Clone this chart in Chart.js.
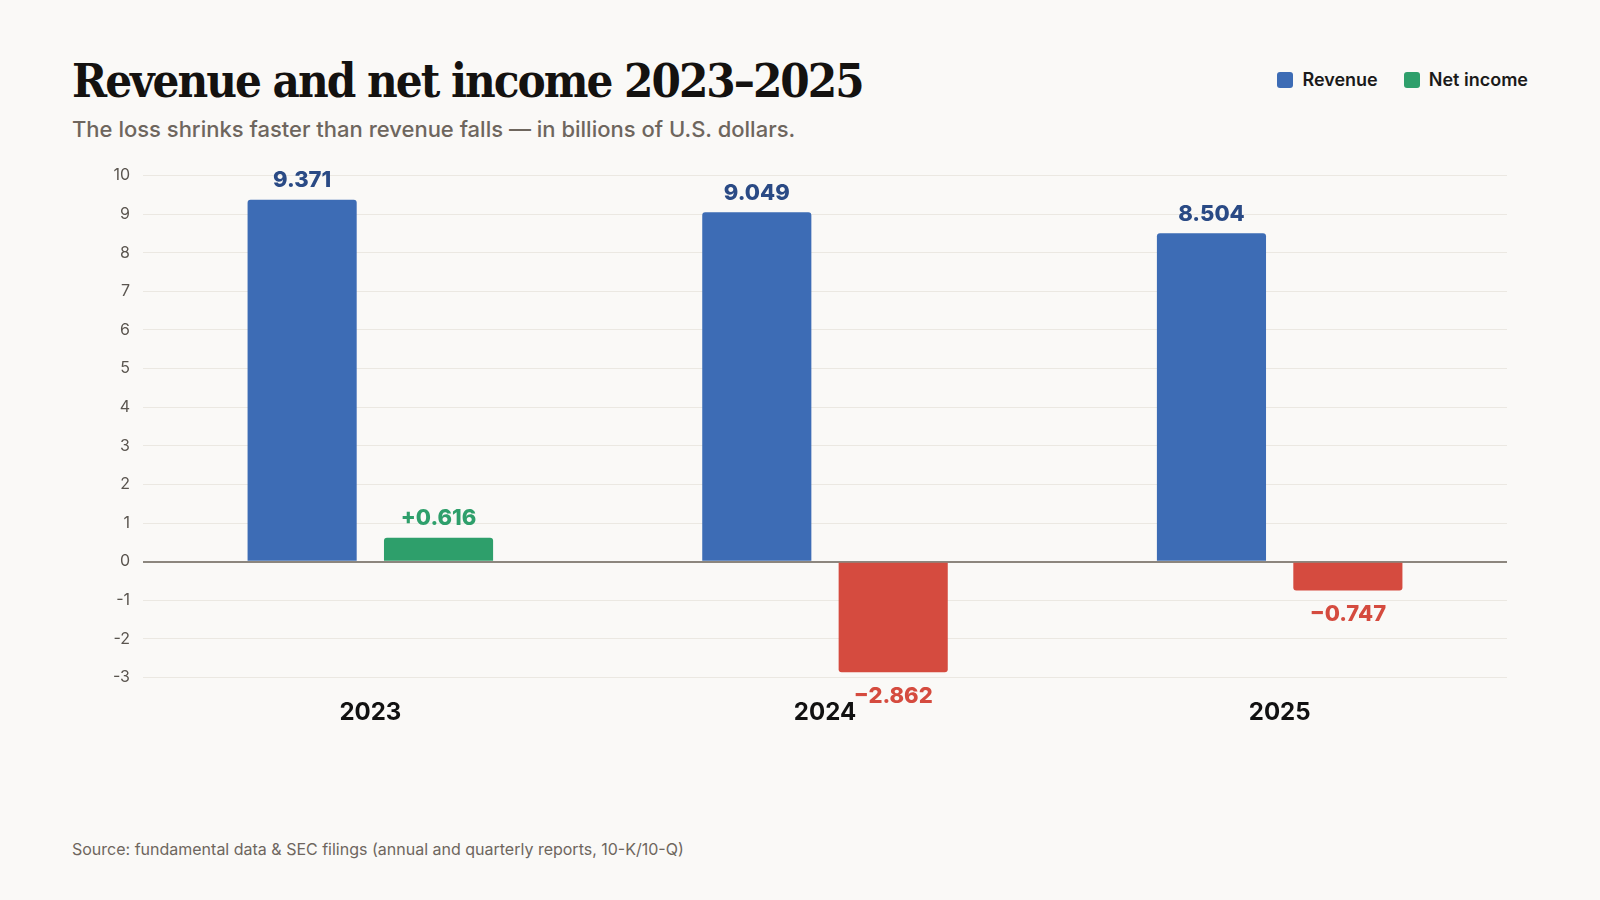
<!DOCTYPE html>
<html>
<head>
<meta charset="utf-8">
<script src="https://cdn.jsdelivr.net/npm/chart.js@4.4.1/dist/chart.umd.min.js"></script>
<style>
  html, body { margin: 0; padding: 0; background: #faf9f7; }
  body { width: 1600px; height: 900px; position: relative; overflow: hidden; font-family: Inter, "Noto Sans", sans-serif; }
  #title { position: absolute; left: 72px; top: 57px; font-family: "DejaVu Serif", "Liberation Serif", serif; font-stretch: condensed; font-weight: 700; font-size: 47px; line-height: 1; color: #141210; letter-spacing: -2px; white-space: nowrap; }
  #subtitle { position: absolute; left: 72px; top: 116px; font-size: 22px; font-weight: 500; color: #6e665e; white-space: nowrap; }
  #legend { position: absolute; right: 72px; top: 69px; display: flex; gap: 26px; font-size: 18px; font-weight: 600; color: #1a1a1a; }
  #legend span.item { display: flex; align-items: center; }
  #legend span.box { width: 16px; height: 16px; border-radius: 3px; margin-right: 9px; display: inline-block; }
  #source { position: absolute; left: 72px; top: 839px; font-size: 16px; color: #6e665e; white-space: nowrap; }
  #wrap { position: absolute; left: 0; top: 150px; width: 1600px; height: 620px; }
</style>
</head>
<body>
<div id="title">Revenue and net income 2023–2025</div>
<div id="subtitle">The loss shrinks faster than revenue falls — in billions of U.S. dollars.</div>
<div id="legend"></div>
<div id="wrap"><canvas id="myChart"></canvas></div>
<div id="source">Source: fundamental data &amp; SEC filings (annual and quarterly reports, 10-K/10-Q)</div>
<script>
const years = ["2023", "2024", "2025"];
const revenue = [9.371, 9.049, 8.504];
const netIncome = [0.616, -2.862, -0.747];
const yMin = -3;
const yMax = 10;

const blue = "#3d6cb5";
const green = "#2e9f6b";
const red = "#d54b3f";

// legend as html, from the dataset names
const legendItems = [
  { label: "Revenue", color: blue },
  { label: "Net income", color: green },
];
legendItems.forEach((it) => {
  const el = document.createElement("span");
  el.className = "item";
  el.innerHTML = `<span class="box" style="background:${it.color}"></span>${it.label}`;
  document.getElementById("legend").appendChild(el);
});

const valueLabels = {
  id: "valueLabels",
  afterDatasetsDraw(chart) {
    const ctx = chart.ctx;
    ctx.save();
    ctx.font = "800 22px Inter";
    ctx.textAlign = "center";
    ctx.textBaseline = "middle";
    chart.data.datasets.forEach((ds, di) => {
      const meta = chart.getDatasetMeta(di);
      meta.data.forEach((bar, i) => {
        const v = ds.data[i];
        let text;
        if (di === 0) {
          ctx.fillStyle = "#2a4a85";
          text = v.toFixed(3);
        } else {
          ctx.fillStyle = v >= 0 ? green : red;
          text = (v >= 0 ? "+" : "\u2212") + Math.abs(v).toFixed(3);
        }
        const y = v >= 0 ? bar.y - 19 : bar.y + 24;
        ctx.fillText(text, bar.x, y);
      });
    });
    ctx.restore();
  },
};

const ctx = document.getElementById("myChart").getContext("2d");
const myChart = new Chart(ctx, {
  type: "bar",
  data: {
    labels: years,
    datasets: [
      {
        label: "Revenue",
        data: revenue,
        backgroundColor: blue,
        borderRadius: 3,
        categoryPercentage: 0.6,
        barPercentage: 0.8,
      },
      {
        label: "Net income",
        data: netIncome,
        backgroundColor: netIncome.map((v) => (v >= 0 ? green : red)),
        borderRadius: 3,
        categoryPercentage: 0.6,
        barPercentage: 0.8,
      },
    ],
  },
  options: {
    responsive: true,
    maintainAspectRatio: false,
    animation: false,
    layout: { padding: { left: 0, right: 93, top: 25.5, bottom: 32.5 } },
    plugins: {
      legend: { display: false },
      tooltip: { enabled: false },
    },
    scales: {
      x: {
        grid: { display: false, drawTicks: false },
        border: { display: false },
        ticks: { color: "#111", font: { family: "Inter", size: 24, weight: "700" }, padding: 21 },
        afterFit: (scale) => { scale.height = 60; },
      },
      y: {
        min: yMin,
        max: yMax,
        ticks: { stepSize: 1, color: "#5a554f", font: { family: "Inter", size: 16 }, padding: 13 },
        grid: {
          drawTicks: false,
          color: (c) => (c.tick && c.tick.value === 0 ? "#8c867e" : "#ebe8e2"),
          lineWidth: (c) => (c.tick && c.tick.value === 0 ? 2 : 1),
        },
        border: { display: false },
        afterFit: (scale) => { scale.width = 143; },
      },
    },
  },
  plugins: [valueLabels],
});
</script>
</body>
</html>
